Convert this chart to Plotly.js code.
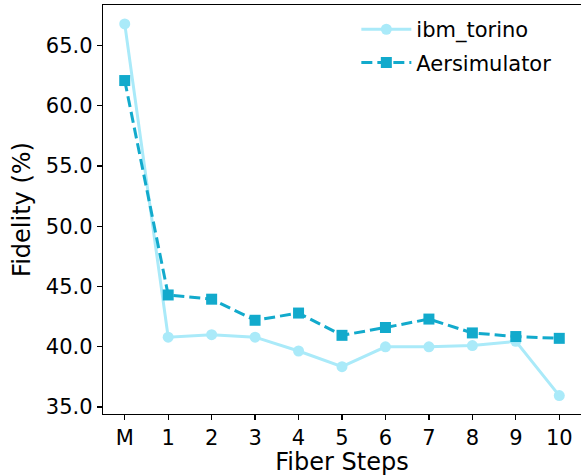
<!DOCTYPE html>
<html>
<head>
<meta charset="utf-8">
<script src="https://cdn.plot.ly/plotly-3.0.1.min.js"></script>
<style>html,body{margin:0;padding:0;background:#fff;}#chart{width:581px;height:476px;}</style>
</head>
<body>
<div id="chart"></div>
<script>
const steps = ["M", "1", "2", "3", "4", "5", "6", "7", "8", "9", "10"];
const ibmTorino = [66.8, 40.8, 41.0, 40.8, 39.65, 38.35, 40.0, 40.0, 40.1, 40.45, 35.95];
const aerSimulator = [62.1, 44.3, 43.95, 42.2, 42.8, 40.95, 41.6, 42.3, 41.15, 40.85, 40.7];

const xIdx = steps.map((_, i) => i);

const traces = [
  {
    x: xIdx, y: ibmTorino, name: "ibm_torino", type: "scatter", mode: "lines+markers",
    legendgroup: "a",
    line: {color: "#aaeaf9", width: 3},
    marker: {symbol: "circle", size: 11, color: "#aaeaf9"}
  },
  {
    x: xIdx, y: aerSimulator, name: "Aersimulator", type: "scatter", mode: "lines+markers",
    legendgroup: "b",
    line: {color: "#12aacc", width: 3, dash: "11px,5px"},
    marker: {symbol: "square", size: 11, color: "#12aacc"}
  }
];

const layout = {
  width: 581, height: 476,
  margin: {l: 103, r: 0, t: 5, b: 62},
  paper_bgcolor: "#fff", plot_bgcolor: "#fff",
  font: {family: "DejaVu Sans", color: "#000"},
  showlegend: true,
  legend: {
    x: 0.53, y: 0.99, xanchor: "left", yanchor: "top",
    bgcolor: "rgba(0,0,0,0)", borderwidth: 0,
    font: {size: 21, family: "DejaVu Sans"},
    itemwidth: 50, tracegroupgap: 3
  },
  xaxis: {
    range: [-0.5, 10.5], tickmode: "array", tickvals: xIdx, ticktext: steps,
    showgrid: false, zeroline: false, showline: true, mirror: true, linecolor: "#000", linewidth: 1.2,
    ticks: "outside", ticklen: 5, tickwidth: 1.2, tickcolor: "#000",
    tickfont: {size: 21}, automargin: false,
    title: {text: "Fiber Steps", font: {size: 24}, standoff: 6}
  },
  yaxis: {
    range: [34.42, 68.37], tick0: 35, dtick: 5, tickformat: ".1f",
    showgrid: false, zeroline: false, showline: true, mirror: false, linecolor: "#000", linewidth: 1.2,
    ticks: "outside", ticklen: 5, tickwidth: 1.2, tickcolor: "#000",
    tickfont: {size: 21}, automargin: false,
    title: {text: "Fidelity (%)", font: {size: 24}, standoff: 8}
  }
};

Plotly.newPlot("chart", traces, layout, {staticPlot: true, displayModeBar: false});
</script>
</body>
</html>
